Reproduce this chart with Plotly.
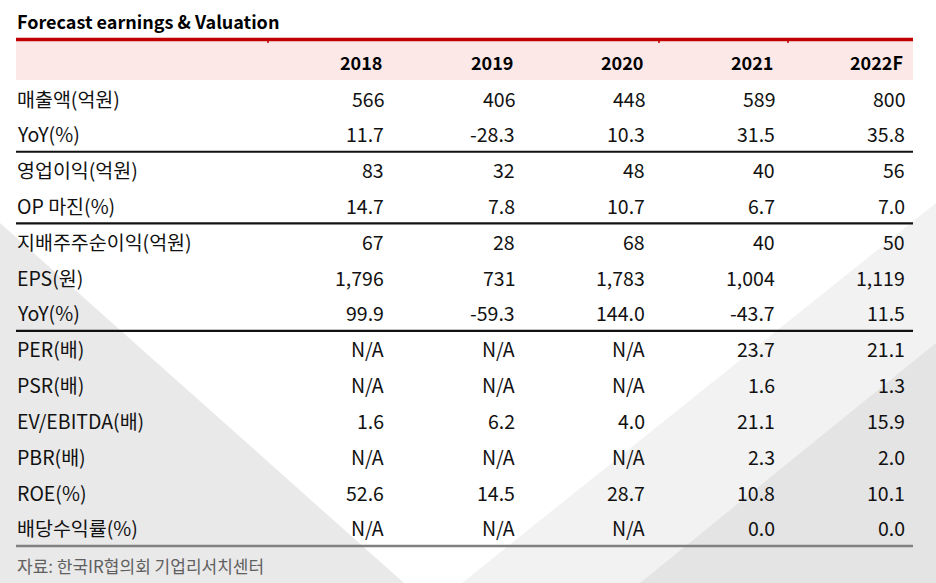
import plotly.graph_objects as go

# ---------------- data ----------------
title = "Forecast earnings & Valuation"
years = ["2018", "2019", "2020", "2021", "2022F"]
row_labels = ["매출액(억원)", "YoY(%)", "영업이익(억원)", "OP 마진(%)",
              "지배주주순이익(억원)", "EPS(원)", "YoY(%)", "PER(배)", "PSR(배)",
              "EV/EBITDA(배)", "PBR(배)", "ROE(%)", "배당수익률(%)"]
row_decimals = [0, 1, 0, 1, 0, 0, 1, 1, 1, 1, 1, 1, 1]
v2018 = [566, 11.7, 83, 14.7, 67, 1796, 99.9, None, None, 1.6, None, 52.6, None]
v2019 = [406, -28.3, 32, 7.8, 28, 731, -59.3, None, None, 6.2, None, 14.5, None]
v2020 = [448, 10.3, 48, 10.7, 68, 1783, 144.0, None, None, 4.0, None, 28.7, None]
v2021 = [589, 31.5, 40, 6.7, 40, 1004, -43.7, 23.7, 1.6, 21.1, 2.3, 10.8, 0.0]
v2022 = [800, 35.8, 56, 7.0, 50, 1119, 11.5, 21.1, 1.3, 15.9, 2.0, 10.1, 0.0]
source = "자료: 한국IR협의회 기업리서치센터"
group_ends = [1, 3, 6]          # black separator after these rows

columns = [v2018, v2019, v2020, v2021, v2022]
col_right = [386, 517, 647, 777, 907]

W, H = 936, 583
FONT = "Noto Sans CJK KR, Noto Sans, sans-serif"
TXT = "#111111"


def fmt(v, d):
    if v is None:
        return "N/A"
    return f"{v:,.{d}f}"


fig = go.Figure()
fig.add_trace(go.Scatter(x=[0], y=[0], mode="markers", marker=dict(opacity=0),
                         hoverinfo="skip", showlegend=False))
fig.add_trace(go.Scatter(x=[0], y=[0], yaxis="y2", mode="markers",
                         marker=dict(opacity=0), hoverinfo="skip", showlegend=False))

# row index -> pixel: 98 + 35.83*i
r0, rs = 98.0, 35.83
y_top = -r0 / rs
y_bot = (H - r0) / rs

shapes = []
# background decoration
shapes.append(dict(type="path", xref="x", yref="y2", layer="below",
                   path="M 0 223 L 0 583 L 404 583 Z",
                   fillcolor="#e9e9e9", line=dict(width=0)))
shapes.append(dict(type="path", xref="x", yref="y2", layer="below",
                   path="M 936 203 L 462 583 L 936 583 Z",
                   fillcolor="#f2f2f2", line=dict(width=0)))
shapes.append(dict(type="path", xref="x", yref="y2", layer="below",
                   path="M 936 343 L 640 583 L 936 583 Z",
                   fillcolor="#e4e4e4", line=dict(width=0)))
# header band
shapes.append(dict(type="rect", xref="x", yref="y2", layer="below",
                   x0=16, x1=913, y0=41, y1=80,
                   fillcolor="#fde8e8", line=dict(width=0)))
shapes.append(dict(type="line", xref="x", yref="y2", x0=16, x1=913, y0=39.5, y1=39.5,
                   line=dict(color="#c00000", width=3.5)))
for tx in [268, 659, 788]:
    shapes.append(dict(type="line", xref="x", yref="y2", x0=tx, x1=tx, y0=41, y1=43,
                       line=dict(color="#c00000", width=1.5)))
# separators
for g in group_ends:
    shapes.append(dict(type="line", xref="x", yref="y", x0=16, x1=913,
                       y0=g + 0.5, y1=g + 0.5, line=dict(color="#111111", width=2.2)))
shapes.append(dict(type="line", xref="x", yref="y", x0=16, x1=913,
                   y0=len(row_labels) - 0.5, y1=len(row_labels) - 0.5,
                   line=dict(color="#808080", width=2.5)))

ann = []
ann.append(dict(text=title, x=15, y=21, xref="x", yref="y2", xanchor="left",
                yanchor="middle", showarrow=False,
                font=dict(family=FONT, size=18, color="#000000", weight="bold")))
for j, yr in enumerate(years):
    ann.append(dict(text=yr, x=col_right[j] - 2, y=-1, xref="x", yref="y",
                    xanchor="right", yanchor="middle", showarrow=False,
                    font=dict(family=FONT, size=18, color="#000000", weight="bold")))
for i, lab in enumerate(row_labels):
    ann.append(dict(text=lab, x=15, y=i, xref="x", yref="y", xanchor="left",
                    yanchor="middle", showarrow=False,
                    font=dict(family=FONT, size=19.5, color=TXT)))
    for j, col in enumerate(columns):
        ann.append(dict(text=fmt(col[i], row_decimals[i]), x=col_right[j], y=i,
                        xref="x", yref="y", xanchor="right", yanchor="middle",
                        showarrow=False, font=dict(family=FONT, size=19.5, color=TXT)))
ann.append(dict(text=source, x=15, y=565, xref="x", yref="y2", xanchor="left",
                yanchor="middle", showarrow=False,
                font=dict(family=FONT, size=17, color="#606060")))

fig.update_layout(
    width=W, height=H,
    margin=dict(l=0, r=0, t=0, b=0),
    paper_bgcolor="white", plot_bgcolor="white",
    xaxis=dict(range=[0, W], visible=False, fixedrange=True),
    yaxis=dict(range=[y_bot, y_top], visible=False, fixedrange=True),
    yaxis2=dict(range=[H, 0], visible=False, overlaying="y", fixedrange=True),
    shapes=shapes, annotations=ann, showlegend=False,
)

fig.write_html("out.html", config={"displayModeBar": False},
               post_script="document.body.style.margin='0';document.body.style.overflow='hidden';")
